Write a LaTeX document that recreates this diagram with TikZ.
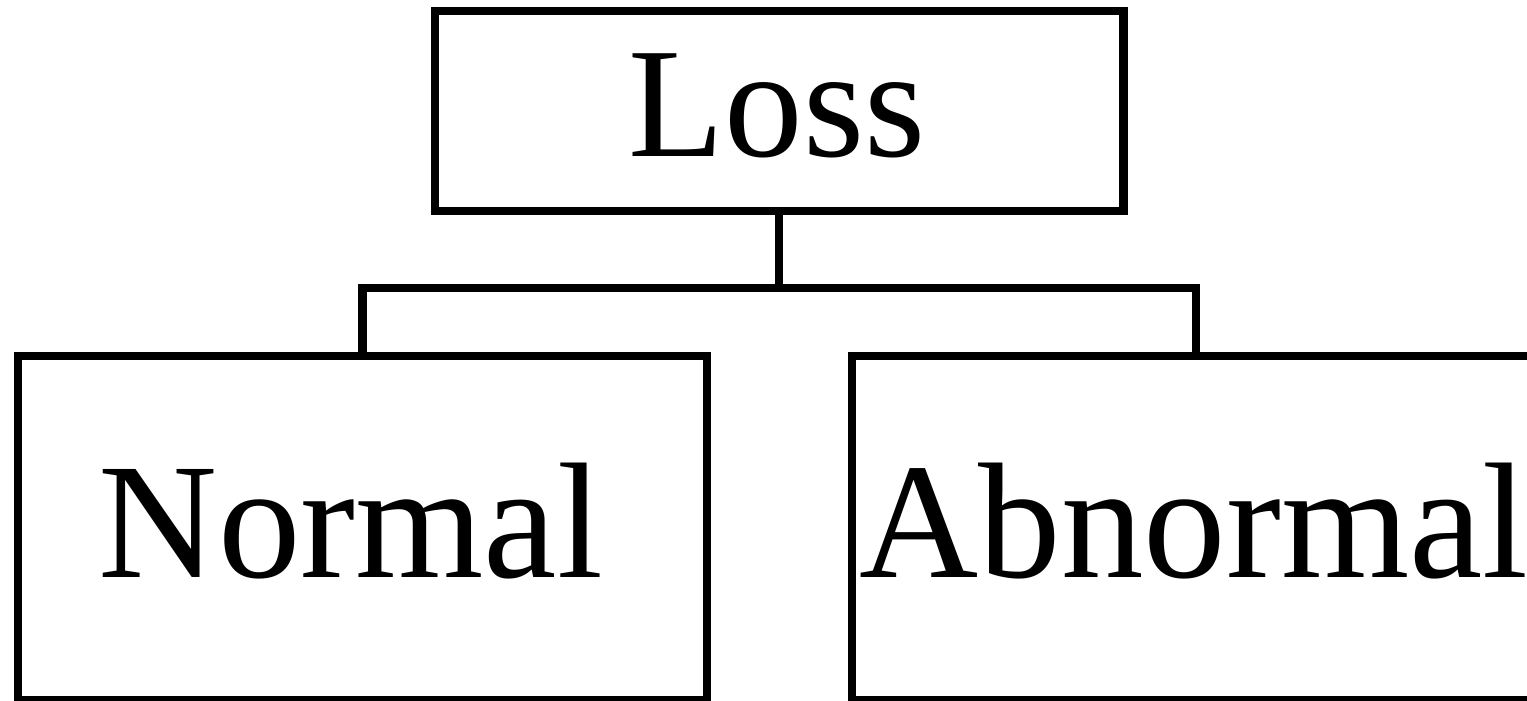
\documentclass[tikz,border=0pt]{standalone}
\usepackage{fontspec}
\setmainfont{Liberation Serif}
\begin{document}
\begin{tikzpicture}[x=1pt,y=1pt,
  box/.style={draw=black,line width=8.3pt,line join=miter,rectangle,inner sep=0pt,
    minimum width=688.5pt},
  toptext/.style={anchor=base,inner sep=0pt,font=\fontsize{157}{157}\selectfont},
  bottext/.style={anchor=base,inner sep=0pt,font=\fontsize{165}{165}\selectfont},
  conn/.style={draw=black,line width=8.3pt,line join=miter}]
\useasboundingbox (0,0) rectangle (1527,701);
\clip (0,0) rectangle (1527,701);
\node[box,minimum height=200pt] (loss) at (779.25,590) {};
\node[box,minimum height=344.5pt] (normal) at (362.5,173) {};
\node[box,minimum height=344.5pt] (abnormal) at (1196,173) {};
\node[toptext] (losst) at (777,544) {Loss};
\node[bottext] (normalt) at (351,123) {Normal};
\node[bottext] (abnormalt) at (1194,123) {Abnormal};
\draw[conn] (loss.south) -- ++(0,-73) coordinate (j);
\draw[conn] (normal.north) |- (j) -| (abnormal.north);
\end{tikzpicture}
\end{document}
